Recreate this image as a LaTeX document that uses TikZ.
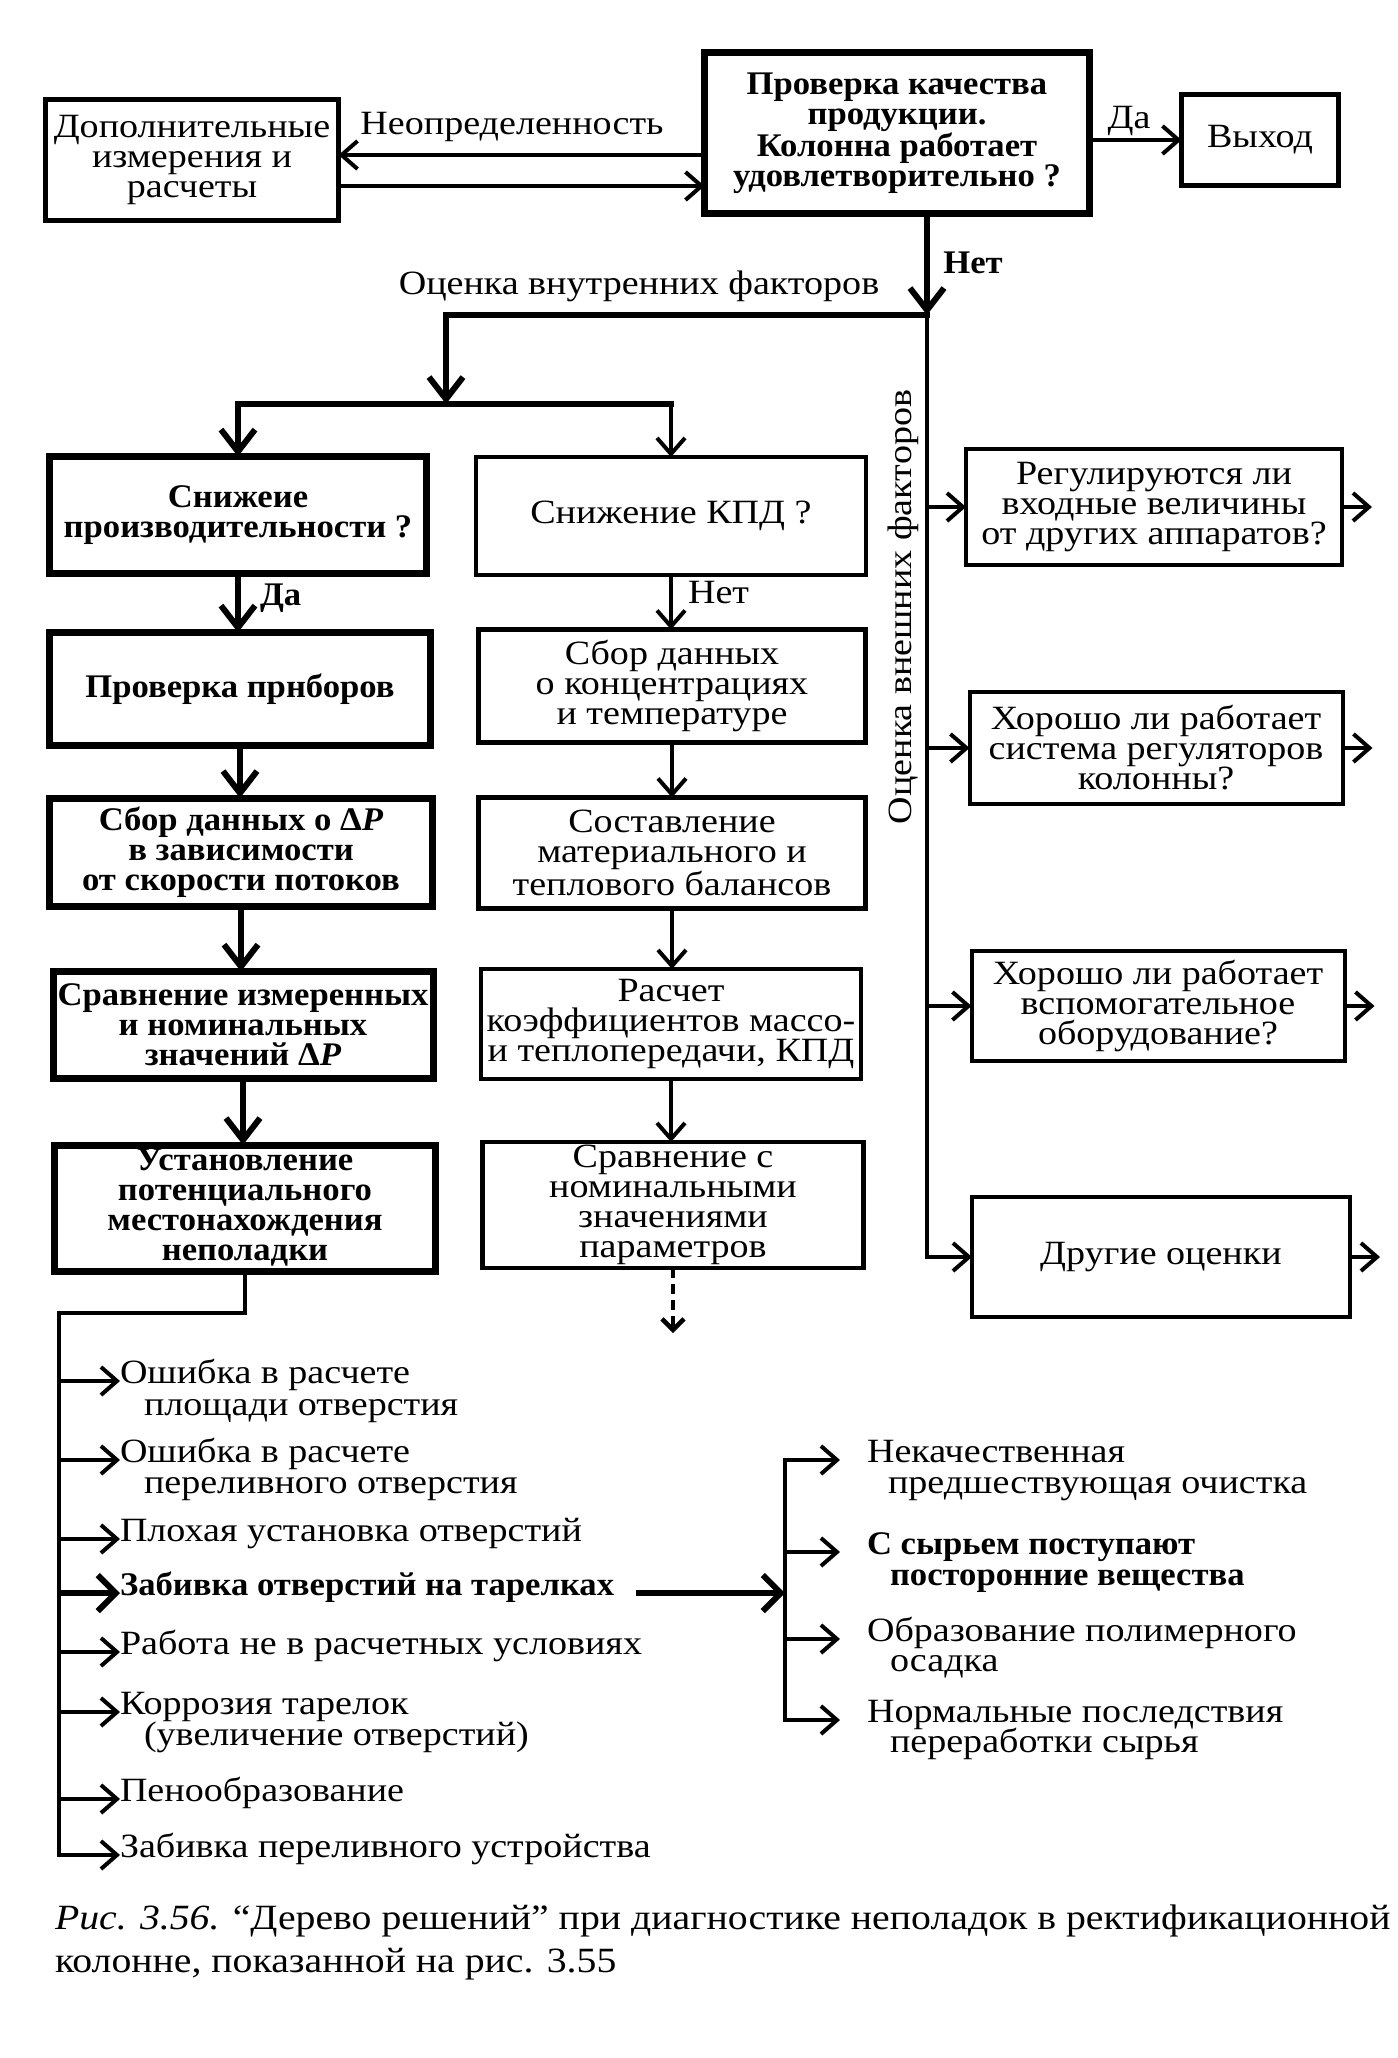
\documentclass[tikz,border=0pt]{standalone}
\usepackage{fontspec}
\setmainfont{Liberation Serif}
\newfontfamily\wfont{Liberation Serif}[FakeStretch=1.12]
\newfontfamily\bwfont{Liberation Serif}[FakeStretch=1.05]
\usetikzlibrary{arrows.meta}
\begin{document}
\begin{tikzpicture}[x=1pt,y=-1pt,
  every node/.style={inner sep=0pt, outer sep=0pt},
  txt/.style={font=\wfont\fontsize{34}{30}\selectfont},
  btxt/.style={font=\bwfont\fontsize{33}{30}\selectfont\bfseries},
  box/.style={draw, line width=4.5pt, align=center, font=\wfont\fontsize{34}{30}\selectfont},
  bbox/.style={draw, line width=7pt, align=center, font=\bwfont\fontsize{33}{30}\selectfont\bfseries},
  ln/.style={line width=4pt, line cap=rect, line join=miter},
  tln/.style={line width=6pt, line cap=rect, line join=miter},
  arr/.style={line width=4pt, line join=miter, -{Straight Barb[length=16pt,width=28pt,line width=4pt]}},
  tarr/.style={line width=6pt, line join=miter, -{Straight Barb[length=22pt,width=34pt,line width=6pt]}},
  barr/.style={line width=6.5pt, -{Straight Barb[length=18pt,width=36pt,line width=6pt]}},
  darr/.style={line width=4.5pt, dash pattern=on 10pt off 6pt, -{Straight Barb[length=11pt,width=22pt,line width=4.5pt]}},
]
\useasboundingbox (0,0) rectangle (1397,2058);

% top
\node[bbox, minimum width=385pt, minimum height=160pt] (main) at (897,133) {Проверка качества\\продукции.\\Колонна работает\\удовлетворительно ?};
\node[box, minimum width=293pt, minimum height=121pt] (dop) at (192,160) {Дополнительные\\измерения и\\расчеты};
\node[box, minimum width=157pt, minimum height=91pt] (exit) at (1260,140) {Выход};
\coordinate (yA) at (0,155);
\coordinate (yB) at (0,186);
\draw[arr] (main.west |- yA) -- (dop.east |- yA);
\draw[arr] (dop.east |- yB) -- (main.west |- yB);
\node[txt] (unc) at (512,127) {Неопределенность};
\draw[arr] (main.east |- exit.west) -- (exit.west);
\node[txt] (da1) at (1129,121) {Да};

% split
\coordinate (J) at (927,315);
\coordinate (K) at (446,315);
\coordinate (K2) at (446,404);
\coordinate (BL) at (238,404);
\coordinate (BR) at (671,404);
\draw[tarr] (main.south -| J) -- (J);
\node[btxt] (net1) at (973,263) {Нет};
\draw[tln] (J) -- (K);
\draw[tarr] (K) -- (K2);
\node[txt] (inner) at (639,286) {Оценка внутренних факторов};
\draw[tln] (BL) -- (BR);

% left column
\node[bbox, minimum width=377pt, minimum height=117pt] (l1) at (238,515) {Снижеие\\производительности ?};
\node[bbox, minimum width=381pt, minimum height=113pt] (l2) at (240,689) {Проверка прнборов};
\node[bbox, minimum width=383pt, minimum height=108pt] (l3) at (241,852) {Сбор данных о Δ\textit{P}\\в зависимости\\от скорости потоков};
\node[bbox, minimum width=380pt, minimum height=107pt] (l4) at (243,1025) {Сравнение измеренных\\и номинальных\\значений Δ\textit{P}};
\node[bbox, minimum width=381pt, minimum height=126pt] (l5) at (245,1208) {Установление\\потенциального\\местонахождения\\неполадки};
\draw[tarr] (BL) -- (BL |- l1.north);
\draw[tarr] (l1.south) -- (l1.south |- l2.north);
\node[btxt, anchor=mid west] (da2) at (260,603) {Да};
\draw[tarr] (l2.south) -- (l2.south |- l3.north);
\draw[tarr] (l3.south) -- (l3.south |- l4.north);
\draw[tarr] (l4.south) -- (l4.south |- l5.north);

% middle column
\node[box, minimum width=390pt, minimum height=118pt] (m1) at (671,516) {Снижение КПД ?};
\node[box, minimum width=387pt, minimum height=113pt] (m2) at (672,686) {Сбор данных\\о концентрациях\\и температуре};
\node[box, minimum width=387pt, minimum height=111pt] (m3) at (672,853) {Составление\\материального и\\теплового балансов};
\node[box, minimum width=380pt, minimum height=110pt] (m4) at (671,1024) {Расчет\\коэффициентов массо-\\и теплопередачи, КПД};
\node[box, minimum width=381pt, minimum height=126pt] (m5) at (673,1205) {Сравнение с\\номинальными\\значениями\\параметров};
\draw[arr] (BR) -- (BR |- m1.north);
\draw[arr] (m1.south) -- (m1.south |- m2.north);
\node[txt, anchor=mid west] (net2) at (688,601) {Нет};
\draw[arr] (m2.south) -- (m2.south |- m3.north);
\draw[arr] (m3.south) -- (m3.south |- m4.north);
\draw[arr] (m4.south) -- (m4.south |- m5.north);
\coordinate (D) at (673,1333);
\draw[darr] (m5.south) -- (D);

% external factors
\node[box, line width=4pt, minimum width=376pt, minimum height=116pt] (r1) at (1154,507) {Регулируются ли\\входные величины\\от других аппаратов?};
\node[box, line width=4pt, minimum width=373pt, minimum height=112pt] (r2) at (1156,748) {Хорошо ли работает\\система регуляторов\\колонны?};
\node[box, line width=4pt, minimum width=373pt, minimum height=110pt] (r3) at (1158,1006) {Хорошо ли работает\\вспомогательное\\оборудование?};
\node[box, line width=4pt, minimum width=378pt, minimum height=120pt] (r4) at (1161,1257) {Другие оценки};
\draw[arr] (J) -- (J |- r4.west) -- (r4.west);
\draw[arr] (J |- r1.west) -- (r1.west);
\draw[arr] (J |- r2.west) -- (r2.west);
\draw[arr] (J |- r3.west) -- (r3.west);
\node[txt, rotate=90] (outer) at (903,607) {Оценка внешних факторов};
\draw[arr] (r1.east) -- ++(30,0);
\draw[arr] (r2.east) -- ++(30,0);
\draw[arr] (r3.east) -- ++(30,0);
\draw[arr] (r4.east) -- ++(30,0);

% causes
\node[txt, anchor=mid west] (i1) at (120,1381) {Ошибка в расчете};
\node[txt, anchor=mid west] (i1b) at (144,1413) {площади отверстия};
\node[txt, anchor=mid west] (i2) at (120,1460) {Ошибка в расчете};
\node[txt, anchor=mid west] (i2b) at (144,1491) {переливного отверстия};
\node[txt, anchor=mid west] (i3) at (120,1539) {Плохая установка отверстий};
\node[btxt, anchor=mid west] (i4) at (120,1593) {Забивка отверстий на тарелках};
\node[txt, anchor=mid west] (i5) at (120,1652) {Работа не в расчетных условиях};
\node[txt, anchor=mid west] (i6) at (120,1712) {Коррозия тарелок};
\node[txt, anchor=mid west] (i6b) at (144,1743) {(увеличение отверстий)};
\node[txt, anchor=mid west] (i7) at (120,1799) {Пенообразование};
\node[txt, anchor=mid west] (i8) at (120,1855) {Забивка переливного устройства};
\coordinate (T1) at (59,1313);
\draw[arr] (l5.south) |- (T1) |- (i8.mid west);
\foreach \n in {i1,i2,i3,i5,i6,i7} \draw[arr] (T1 |- \n.mid west) -- (\n.mid west);
\draw[barr] (T1 |- i4.mid west) -- (i4.mid west);

% second level
\node[txt, anchor=mid west] (j1) at (867,1460) {Некачественная};
\node[txt, anchor=mid west] (j1b) at (888,1491) {предшествующая очистка};
\node[btxt, anchor=mid west] (j2) at (867,1552) {С сырьем поступают};
\node[btxt, anchor=mid west] (j2b) at (890,1583) {посторонние вещества};
\node[txt, anchor=mid west] (j3) at (867,1639) {Образование полимерного};
\node[txt, anchor=mid west] (j3b) at (890,1669) {осадка};
\node[txt, anchor=mid west] (j4) at (867,1720) {Нормальные последствия};
\node[txt, anchor=mid west] (j4b) at (890,1750) {переработки сырья};
\coordinate (V) at (785,1593);
\draw[barr, shorten <=22pt] (i4.mid east) -- (V |- i4.mid east);
\draw[ln] (V |- j1.mid west) -- (V |- j4.mid west);
\foreach \n in {j1,j2,j3,j4} \draw[arr, shorten >=27pt] (V |- \n.mid west) -- (\n.mid west);

% caption
\node[anchor=mid west, font=\wfont\fontsize{35.5}{30}\selectfont] (cap1) at (55,1927) {\textit{Рис. 3.56.} “Дерево решений” при диагностике неполадок в ректификационной};
\node[anchor=mid west, font=\wfont\fontsize{35.5}{30}\selectfont] (cap2) at (55,1970) {колонне, показанной на рис. 3.55};
\end{tikzpicture}
\end{document}
